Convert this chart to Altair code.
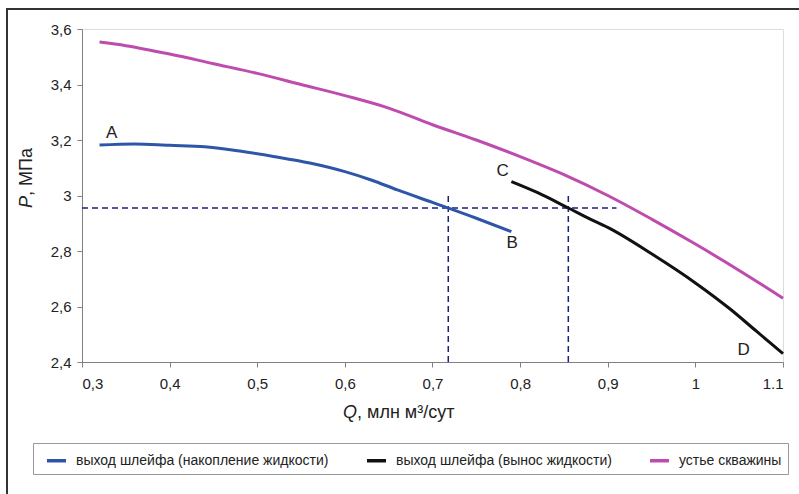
import altair as alt
import pandas as pd

# --- data ---
blue_q = [0.32, 0.36, 0.40, 0.44, 0.48, 0.52, 0.56, 0.60, 0.63, 0.66, 0.70, 0.75, 0.79]
blue_p = [3.182, 3.186, 3.181, 3.176, 3.16, 3.14, 3.117, 3.086, 3.056, 3.02, 2.975, 2.918, 2.87]

black_q = [0.79, 0.82, 0.855, 0.88, 0.90, 0.95, 1.00, 1.04, 1.07, 1.10]
black_p = [3.05, 3.01, 2.955, 2.915, 2.885, 2.79, 2.685, 2.59, 2.51, 2.43]

pink_q = [0.32, 0.35, 0.40, 0.45, 0.50, 0.55, 0.60, 0.65, 0.70, 0.75, 0.80, 0.85, 0.90, 0.95, 1.00, 1.05, 1.10]
pink_p = [3.553, 3.54, 3.51, 3.475, 3.44, 3.40, 3.36, 3.315, 3.255, 3.20, 3.14, 3.075, 3.00, 2.915, 2.825, 2.73, 2.63]

series_names = ["выход шлейфа (накопление жидкости)", "выход шлейфа (вынос жидкости)", "устье скважины"]
series_colors = ["#2E56A8", "#111111", "#BE4CAE"]

label_text = ["A", "B", "C", "D"]
label_q = [0.334, 0.791, 0.78, 1.055]
label_p = [3.225, 2.829, 3.088, 2.443]

dash_q = [0.3, 0.718, 0.855]
dash_q2 = [0.91, 0.718, 0.855]
dash_p = [2.955, 2.4, 2.4]
dash_p2 = [2.955, 3.0, 3.0]

x_ticks = [0.3, 0.4, 0.5, 0.6, 0.7, 0.8, 0.9, 1.0, 1.1]
x_tick_labels = ["0,3", "0,4", "0,5", "0,6", "0,7", "0,8", "0,9", "1", "1.1"]
y_ticks = [2.4, 2.6, 2.8, 3.0, 3.2, 3.4, 3.6]
y_tick_labels = ["2,4", "2,6", "2,8", "3", "3,2", "3,4", "3,6"]

x_title_var = "Q"
x_title_rest = ", млн м³/сут"
y_title_var = "P"
y_title_rest = ", МПа"

rows = []
for name, qs, ps in zip(series_names, [blue_q, black_q, pink_q], [blue_p, black_p, pink_p]):
    for q, p in zip(qs, ps):
        rows.append({"series": name, "Q": q, "P": p})
lines_df = pd.DataFrame(rows)
labels_df = pd.DataFrame({"t": label_text, "Q": label_q, "P": label_p})
dash_df = pd.DataFrame({"Q": dash_q, "Q2": dash_q2, "P": dash_p, "P2": dash_p2})
one = pd.DataFrame({"a": [0]})


def lbl_expr(vals, labels):
    parts = []
    for v, l in zip(vals, labels):
        parts.append(f"abs(datum.value - {v}) < 0.001 ? '{l}'")
    return " : ".join(parts) + " : ''"


xscale = alt.Scale(domain=[0.3, 1.1], nice=False, zero=False)
yscale = alt.Scale(domain=[2.4, 3.6], nice=False, zero=False)

font = "Liberation Sans"
tcol = "#222222"

x_axis = alt.Axis(values=x_ticks, labelExpr=lbl_expr(x_ticks, x_tick_labels), grid=False, title=None,
                  labelFont=font, labelFontSize=15, labelColor=tcol,
                  labelPadding=9, tickSize=5, tickColor="#808080", domainColor="#808080")
y_axis = alt.Axis(values=y_ticks, labelExpr=lbl_expr(y_ticks, y_tick_labels), grid=False, title=None,
                  labelFont=font, labelFontSize=15, labelColor=tcol,
                  labelPadding=6, tickSize=5, tickColor="#808080", domainColor="#808080")

frame = alt.Chart(one).mark_rect(fill=None, stroke="#333", strokeWidth=2, clip=False).encode(
    x=alt.value(-75), x2=alt.value(800), y=alt.value(-20), y2=alt.value(560)
)

dashes = alt.Chart(dash_df).mark_rule(color="#1C1F7E", strokeDash=[6, 4], strokeWidth=1.5).encode(
    x=alt.X("Q:Q", scale=xscale, axis=x_axis), x2="Q2", y=alt.Y("P:Q", scale=yscale, axis=y_axis), y2="P2"
)

lines = alt.Chart(lines_df).mark_line(strokeWidth=3, interpolate="monotone").encode(
    x=alt.X("Q:Q", scale=xscale, axis=x_axis),
    y=alt.Y("P:Q", scale=yscale, axis=y_axis),
    color=alt.Color("series:N", scale=alt.Scale(domain=series_names, range=series_colors),
                    sort=series_names,
                    legend=alt.Legend(title=None, orient="none", legendX=-49, legendY=414, direction="horizontal",
                                      columns=3, columnPadding=30, symbolType="stroke", symbolSize=361,
                                      symbolStrokeWidth=3.5, labelFont=font, labelFontSize=14,
                                      labelColor=tcol, labelLimit=400, strokeColor="#999", padding=6,
                                      labelOffset=8, symbolOffset=6)),
)

texts = alt.Chart(labels_df).mark_text(font=font, fontSize=17, color=tcol).encode(
    x=alt.X("Q:Q", scale=xscale), y=alt.Y("P:Q", scale=yscale), text="t:N"
)

xt1 = alt.Chart(one).mark_text(font=font, fontSize=18, fontStyle="italic", color=tcol, align="left",
                               baseline="middle", text=x_title_var).encode(x=alt.value(261), y=alt.value(384))
xt2 = alt.Chart(one).mark_text(font=font, fontSize=18, color=tcol, align="left",
                               baseline="middle", text=x_title_rest).encode(x=alt.value(275), y=alt.value(384))
yt1 = alt.Chart(one).mark_text(font=font, fontSize=18, fontStyle="italic", color=tcol, align="right", angle=270,
                               baseline="middle", text=y_title_var).encode(x=alt.value(-55), y=alt.value(167))
yt2 = alt.Chart(one).mark_text(font=font, fontSize=18, color=tcol, align="left", angle=270,
                               baseline="middle", text=y_title_rest).encode(x=alt.value(-55), y=alt.value(167))

chart = alt.layer(frame, dashes, lines, texts, xt1, xt2, yt1, yt2).properties(
    width=701, height=333,
    autosize=alt.AutoSizeParams(type="none"),
    padding={"left": 82, "top": 29, "right": 16, "bottom": 132},
).configure_view(stroke="#A0A0A0", strokeWidth=1.5).configure(background="white")

chart.save("out.html", embed_options={"renderer": "svg", "actions": False})
